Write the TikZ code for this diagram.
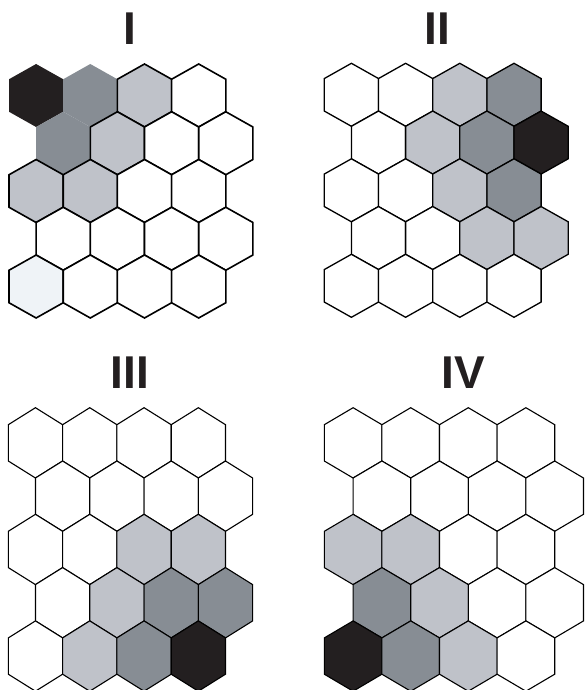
\documentclass[tikz,border=0pt]{standalone}
\usepackage{fontspec}
\newfontfamily\titlefont{Liberation Sans}
\usepackage{tikz}
\usetikzlibrary{positioning}

\definecolor{hexK}{HTML}{231F20}
\definecolor{hexD}{HTML}{878D94}
\definecolor{hexL}{HTML}{BFC2C9}
\definecolor{hexP}{HTML}{EFF3F7}

% one grid: #1,#2 centre of first cell, #3 half width, #4 rise, #5 side,
% #6 line width, #7 rows of cell styles
\newcommand\hexgrid[7]{%
  \foreach \row [count=\i from 0] in {#7} {
    \foreach \cl [count=\j from 0] in \row {
      \pgfmathtruncatemacro{\odd}{mod(\i,2)}%
      \pgfmathsetmacro{\hx}{#1 + 2*#3*\j + #3*\odd}%
      \pgfmathsetmacro{\hy}{#2 + (#4+#5)*\i - #5/2 - #4}%
      \path[cell=#6, \cl] (\hx,\hy) -- ++(#3,#4) -- ++(0,#5)
        -- ++(-#3,#4) -- ++(-#3,-#4) -- ++(0,-#5) -- cycle;
    }
  }}

\begin{document}
\begin{tikzpicture}[x=1pt, y=-1pt,
    cell/.style = {draw=black, line width=#1, line join=miter}, % outline of a cell
    cell/.default = 1pt,
    cK/.style = {fill=hexK}, cD/.style = {fill=hexD},
    cL/.style = {fill=hexL}, cP/.style = {fill=hexP}, cW/.style = {fill=white},
    nK/.style = {fill=hexK, draw=none}, % cells with no outline
    nD/.style = {fill=hexD, draw=none},
    title/.style = {font=\titlefont\bfseries\fontsize{46}{46}\selectfont,
      text=hexK, inner sep=0pt, anchor=base},
  ]
  \useasboundingbox (0,0) rectangle (584,690);
  \clip (0,0) rectangle (584,690);

  \node[title] (titleI) at (130.3,44.3) {I};
  \node[title] (titleII) at (437.5,44.3) {II};
  \node[title] (titleIII) at (129.7,388.3) {III};
  \node[title] (titleIV) at (463.7,388.3) {IV};

  \hexgrid{36.1}{95.5}{27.1}{15.25}{32.5}{1.6}{%
    {nK,nD,cL,cW},{nD,cL,cW,cW},{cL,cL,cW,cW},{cW,cW,cW,cW},{cP,cW,cW,cW}}
  \hexgrid{351.4}{94.8}{27.1}{15.25}{32.5}{1.3}{%
    {cW,cW,cL,cD},{cW,cL,cD,cK},{cW,cW,cL,cD},{cW,cW,cL,cL},{cW,cW,cW,cW}}
  \hexgrid{35.45}{442.85}{27.15}{17}{36.3}{1.1}{%
    {cW,cW,cW,cW},{cW,cW,cW,cW},{cW,cW,cL,cL},{cW,cL,cD,cD},{cW,cL,cD,cK}}
  \hexgrid{353.1}{442.85}{28.8}{17}{36.3}{1.1}{%
    {cW,cW,cW,cW},{cW,cW,cW,cW},{cL,cL,cW,cW},{cD,cL,cW,cW},{cK,cD,cL,cW}}
\end{tikzpicture}
\end{document}
